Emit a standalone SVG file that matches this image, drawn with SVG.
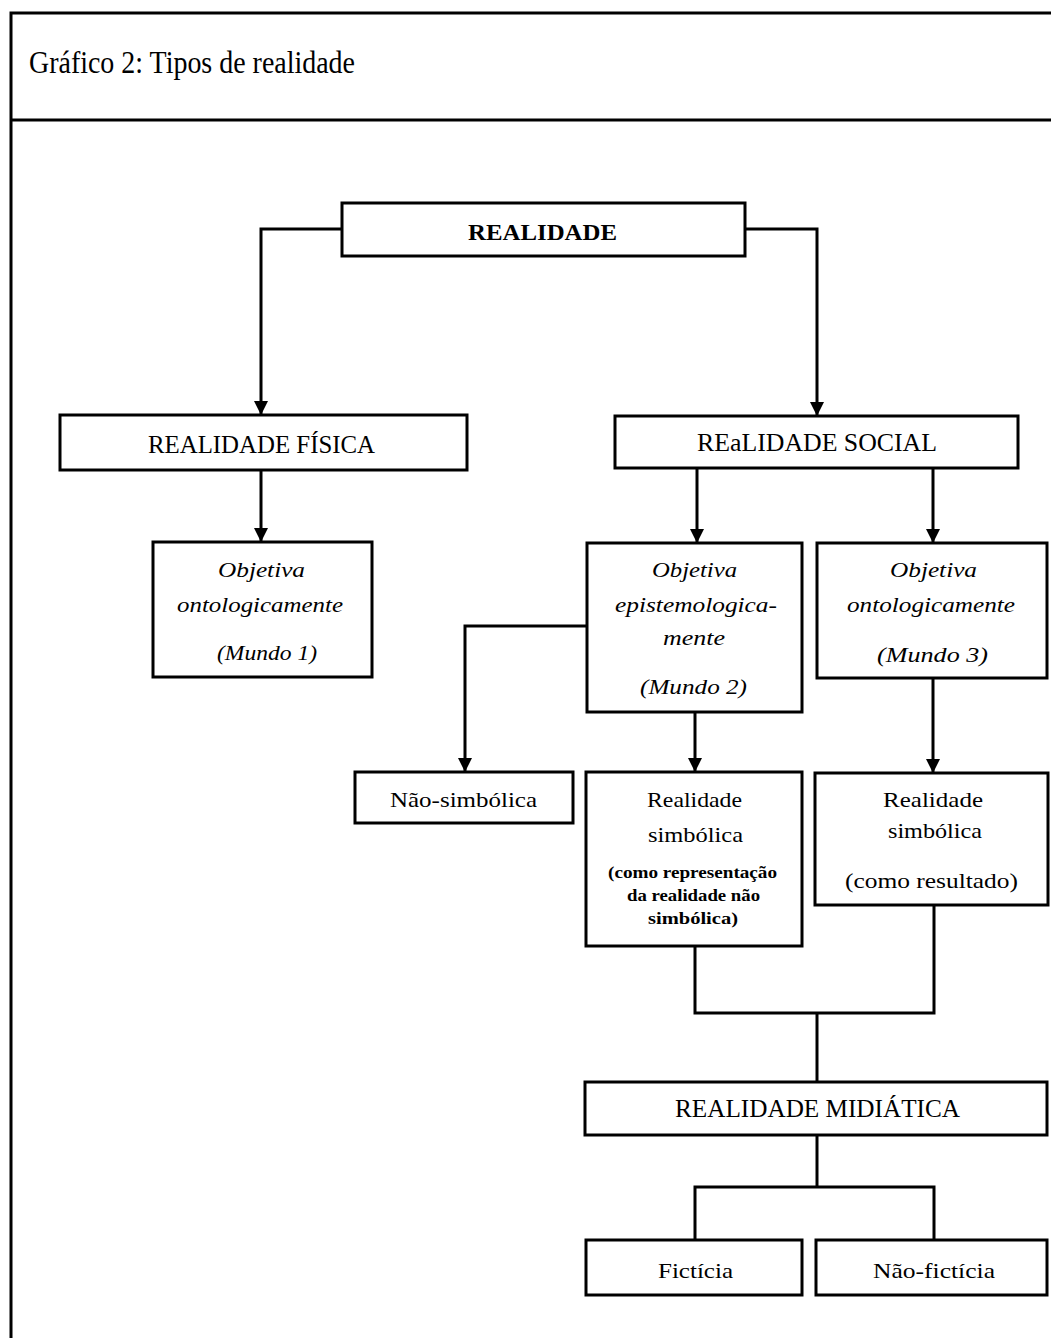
<svg xmlns="http://www.w3.org/2000/svg" width="1051" height="1338" viewBox="0 0 1051 1338">
<style>
.box{fill:#fff;stroke:#000;stroke-width:3}
.conn{fill:none;stroke:#000;stroke-width:3}
.frame{fill:none;stroke:#000;stroke-width:3}
text{font-family:"Liberation Serif","Times New Roman",serif;fill:#000;text-anchor:middle}
.title{font-size:31px;text-anchor:start}
.b{font-weight:bold;font-size:24px}
.cap{font-size:26px}
.it{font-style:italic;font-size:21px}
.n{font-size:22px}
.s{font-size:16px;font-weight:bold}
</style>
<defs>
<marker id="arr" markerUnits="userSpaceOnUse" viewBox="0 0 14 14" refX="14" refY="7" markerWidth="14" markerHeight="14" orient="auto">
<path d="M0,0 L14,7 L0,14 z" fill="#000"/>
</marker>
</defs>
<rect width="1051" height="1338" fill="#fff"/>
<g id="frame">
<path class="frame" d="M1051,13 H11 V1338"/>
<line class="frame" x1="11" y1="120" x2="1051" y2="120"/>
<text class="title" x="29" y="73" textLength="326" lengthAdjust="spacingAndGlyphs">Gráfico 2: Tipos de realidade</text>
</g>
<g id="connectors">
<path class="conn" d="M342,229 H261 V415" marker-end="url(#arr)"/>
<path class="conn" d="M745,229 H817 V416" marker-end="url(#arr)"/>
<path class="conn" d="M261,469 V542" marker-end="url(#arr)"/>
<path class="conn" d="M697,468 V543" marker-end="url(#arr)"/>
<path class="conn" d="M933,468 V543" marker-end="url(#arr)"/>
<path class="conn" d="M587,626 H465 V772" marker-end="url(#arr)"/>
<path class="conn" d="M695,712 V772" marker-end="url(#arr)"/>
<path class="conn" d="M933,678 V773" marker-end="url(#arr)"/>
<path class="conn" d="M695,946 V1013 H934 V905"/>
<path class="conn" d="M817,1013 V1082"/>
<path class="conn" d="M817,1135 V1187"/>
<path class="conn" d="M695,1240 V1187 H934 V1240"/>
</g>
<g id="realidade">
<rect class="box" x="342" y="203" width="403" height="53"/>
<text class="b" x="542.5" y="240" textLength="149" lengthAdjust="spacingAndGlyphs">REALIDADE</text>
</g>
<g id="realidade-fisica">
<rect class="box" x="60" y="415" width="407" height="55"/>
<text class="cap" x="261.5" y="453" textLength="227" lengthAdjust="spacingAndGlyphs">REALIDADE FÍSICA</text>
</g>
<g id="realidade-social">
<rect class="box" x="615" y="416" width="403" height="52"/>
<text class="cap" x="817" y="451" textLength="240" lengthAdjust="spacingAndGlyphs">REaLIDADE SOCIAL</text>
</g>
<g id="mundo1">
<rect class="box" x="153" y="542" width="219" height="135"/>
<text class="it" x="261.5" y="577" textLength="87" lengthAdjust="spacingAndGlyphs">Objetiva</text>
<text class="it" x="260" y="612" textLength="166" lengthAdjust="spacingAndGlyphs">ontologicamente</text>
<text class="it" x="267" y="660" textLength="100" lengthAdjust="spacingAndGlyphs">(Mundo 1)</text>
</g>
<g id="mundo2">
<rect class="box" x="587" y="543" width="215" height="169"/>
<text class="it" x="694.5" y="577" textLength="85" lengthAdjust="spacingAndGlyphs">Objetiva</text>
<text class="it" x="696" y="612" textLength="162" lengthAdjust="spacingAndGlyphs">epistemologica-</text>
<text class="it" x="694" y="645" textLength="62" lengthAdjust="spacingAndGlyphs">mente</text>
<text class="it" x="693.5" y="694" textLength="107" lengthAdjust="spacingAndGlyphs">(Mundo 2)</text>
</g>
<g id="mundo3">
<rect class="box" x="817" y="543" width="230" height="135"/>
<text class="it" x="933.5" y="577" textLength="87" lengthAdjust="spacingAndGlyphs">Objetiva</text>
<text class="it" x="931" y="612" textLength="168" lengthAdjust="spacingAndGlyphs">ontologicamente</text>
<text class="it" x="932.5" y="662" textLength="111" lengthAdjust="spacingAndGlyphs">(Mundo 3)</text>
</g>
<g id="nao-simbolica">
<rect class="box" x="355" y="772" width="218" height="51"/>
<text class="n" x="463.5" y="807" textLength="147" lengthAdjust="spacingAndGlyphs">Não-simbólica</text>
</g>
<g id="simbolica-representacao">
<rect class="box" x="586" y="772" width="216" height="174"/>
<text class="n" x="694.5" y="807" textLength="95" lengthAdjust="spacingAndGlyphs">Realidade</text>
<text class="n" x="695.5" y="842" textLength="95" lengthAdjust="spacingAndGlyphs">simbólica</text>
<text class="s" x="692.5" y="878" textLength="169" lengthAdjust="spacingAndGlyphs">(como representação</text>
<text class="s" x="693.5" y="901" textLength="133" lengthAdjust="spacingAndGlyphs">da realidade não</text>
<text class="s" x="693" y="924" textLength="90" lengthAdjust="spacingAndGlyphs">simbólica)</text>
</g>
<g id="simbolica-resultado">
<rect class="box" x="815" y="773" width="233" height="132"/>
<text class="n" x="933" y="807" textLength="100" lengthAdjust="spacingAndGlyphs">Realidade</text>
<text class="n" x="935" y="838" textLength="94" lengthAdjust="spacingAndGlyphs">simbólica</text>
<text class="n" x="931.5" y="888" textLength="173" lengthAdjust="spacingAndGlyphs">(como resultado)</text>
</g>
<g id="realidade-midiatica">
<rect class="box" x="585" y="1082" width="462" height="53"/>
<text class="cap" x="817.5" y="1117" textLength="285" lengthAdjust="spacingAndGlyphs">REALIDADE MIDIÁTICA</text>
</g>
<g id="ficticia">
<rect class="box" x="586" y="1240" width="216" height="55"/>
<text class="n" x="695.5" y="1278" textLength="75" lengthAdjust="spacingAndGlyphs">Fictícia</text>
</g>
<g id="nao-ficticia">
<rect class="box" x="816" y="1240" width="231" height="55"/>
<text class="n" x="934" y="1278" textLength="122" lengthAdjust="spacingAndGlyphs">Não-fictícia</text>
</g>
</svg>
